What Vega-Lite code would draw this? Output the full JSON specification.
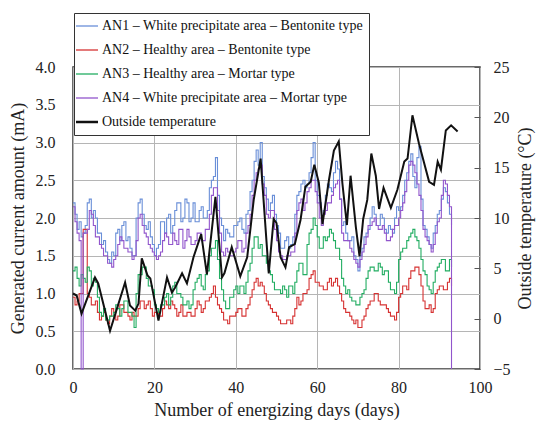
{
  "$schema": "https://vega.github.io/schema/vega-lite/v6.json",
  "width": 407,
  "height": 302,
  "autosize": {"type": "none"},
  "padding": {"left": 73, "top": 67, "right": 56, "bottom": 57},
  "background": "white",
  "config": {
    "font": "Liberation Serif",
    "view": {"stroke": "#3a3a3a", "strokeWidth": 1.5},
    "legend": {"labelFont": "Liberation Serif"},
    "axis": {
      "labelFont": "Liberation Serif",
      "titleFont": "Liberation Serif",
      "labelFontSize": 16,
      "titleFontSize": 18,
      "labelColor": "#222",
      "titleColor": "#222",
      "titleFontWeight": "normal",
      "gridColor": "#b5b5b5",
      "gridWidth": 1,
      "domain": false,
      "ticks": false,
      "labelFlush": false,
      "labelOverlap": false
    }
  },
  "datasets": {
    "an": [
      {"d": 0, "AN1": 2.2, "AN2": 0.95, "AN3": 1.3, "AN4": 2.15},
      {"d": 0.5, "AN1": 2.05, "AN2": 0.85, "AN3": 1.35, "AN4": 1.95},
      {"d": 1, "AN1": 1.85, "AN2": 0.9, "AN3": 1.2, "AN4": 1.8},
      {"d": 1.5, "AN1": 1.95, "AN2": 1.0, "AN3": 1.1, "AN4": 1.7},
      {"d": 2, "AN1": 1.75, "AN2": 1.0, "AN3": 1.25, "AN4": 0},
      {"d": 2.5, "AN1": 1.8, "AN2": 1.85, "AN3": 1.2, "AN4": 1.8},
      {"d": 3, "AN1": 1.9, "AN2": 1.85, "AN3": 1.15, "AN4": 1.8},
      {"d": 3.5, "AN1": 2.2, "AN2": 1.0, "AN3": 1.35, "AN4": 1.85},
      {"d": 4, "AN1": 2.25, "AN2": 0.95, "AN3": 1.3, "AN4": 2.1},
      {"d": 4.5, "AN1": 2.0, "AN2": 0.85, "AN3": 1.1, "AN4": 2.05},
      {"d": 5, "AN1": 2.1, "AN2": 0.85, "AN3": 1.2, "AN4": 1.9},
      {"d": 5.5, "AN1": 2.0, "AN2": 0.9, "AN3": 1.15, "AN4": 1.75},
      {"d": 6, "AN1": 1.8, "AN2": 0.75, "AN3": 0.95, "AN4": 1.75},
      {"d": 6.5, "AN1": 1.8, "AN2": 0.65, "AN3": 0.75, "AN4": 1.65},
      {"d": 7, "AN1": 1.65, "AN2": 0.7, "AN3": 0.7, "AN4": 1.6},
      {"d": 7.5, "AN1": 1.7, "AN2": 0.75, "AN3": 0.8, "AN4": 1.5},
      {"d": 8, "AN1": 1.55, "AN2": 0.65, "AN3": 0.65, "AN4": 1.5},
      {"d": 8.5, "AN1": 1.45, "AN2": 0.6, "AN3": 0.65, "AN4": 1.4},
      {"d": 9, "AN1": 1.4, "AN2": 0.7, "AN3": 0.7, "AN4": 1.4},
      {"d": 9.5, "AN1": 1.55, "AN2": 0.8, "AN3": 0.7, "AN4": 1.35},
      {"d": 10, "AN1": 1.5, "AN2": 0.75, "AN3": 0.75, "AN4": 1.45},
      {"d": 10.5, "AN1": 1.8, "AN2": 0.65, "AN3": 0.85, "AN4": 1.5},
      {"d": 11, "AN1": 1.85, "AN2": 0.7, "AN3": 0.8, "AN4": 1.65},
      {"d": 11.5, "AN1": 1.7, "AN2": 0.85, "AN3": 0.7, "AN4": 1.75},
      {"d": 12, "AN1": 1.9, "AN2": 0.85, "AN3": 0.8, "AN4": 1.7},
      {"d": 12.5, "AN1": 1.95, "AN2": 0.75, "AN3": 0.9, "AN4": 1.6},
      {"d": 13, "AN1": 1.7, "AN2": 0.75, "AN3": 0.9, "AN4": 1.6},
      {"d": 13.5, "AN1": 1.75, "AN2": 0.7, "AN3": 0.75, "AN4": 1.55},
      {"d": 14, "AN1": 1.6, "AN2": 0.65, "AN3": 0.75, "AN4": 1.55},
      {"d": 14.5, "AN1": 1.5, "AN2": 0.75, "AN3": 0.7, "AN4": 1.45},
      {"d": 15, "AN1": 1.5, "AN2": 0.7, "AN3": 0.55, "AN4": 1.5},
      {"d": 15.5, "AN1": 2.0, "AN2": 0.7, "AN3": 1.0, "AN4": 1.7},
      {"d": 16, "AN1": 2.2, "AN2": 0.8, "AN3": 1.25, "AN4": 2.0},
      {"d": 16.5, "AN1": 2.25, "AN2": 0.9, "AN3": 1.25, "AN4": 2.05},
      {"d": 17, "AN1": 2.05, "AN2": 0.9, "AN3": 1.35, "AN4": 1.9},
      {"d": 17.5, "AN1": 1.9, "AN2": 0.8, "AN3": 1.35, "AN4": 1.8},
      {"d": 18, "AN1": 1.85, "AN2": 0.85, "AN3": 1.2, "AN4": 1.75},
      {"d": 18.5, "AN1": 1.95, "AN2": 0.9, "AN3": 1.1, "AN4": 1.65},
      {"d": 19, "AN1": 1.75, "AN2": 0.8, "AN3": 1.1, "AN4": 1.6},
      {"d": 19.5, "AN1": 1.65, "AN2": 0.7, "AN3": 1.05, "AN4": 1.55},
      {"d": 20, "AN1": 1.5, "AN2": 0.75, "AN3": 0.85, "AN4": 1.5},
      {"d": 20.5, "AN1": 1.6, "AN2": 0.75, "AN3": 0.8, "AN4": 1.45},
      {"d": 21, "AN1": 1.65, "AN2": 0.7, "AN3": 0.75, "AN4": 1.5},
      {"d": 21.5, "AN1": 1.95, "AN2": 0.7, "AN3": 0.85, "AN4": 1.55},
      {"d": 22, "AN1": 1.95, "AN2": 0.8, "AN3": 0.85, "AN4": 1.7},
      {"d": 22.5, "AN1": 1.8, "AN2": 0.9, "AN3": 0.95, "AN4": 1.8},
      {"d": 23, "AN1": 2.0, "AN2": 0.85, "AN3": 1.0, "AN4": 1.75},
      {"d": 23.5, "AN1": 2.05, "AN2": 0.8, "AN3": 0.85, "AN4": 1.65},
      {"d": 24, "AN1": 1.8, "AN2": 0.9, "AN3": 0.95, "AN4": 1.65},
      {"d": 24.5, "AN1": 1.9, "AN2": 0.85, "AN3": 1.1, "AN4": 1.8},
      {"d": 25, "AN1": 2.1, "AN2": 0.8, "AN3": 1.15, "AN4": 1.7},
      {"d": 25.5, "AN1": 2.2, "AN2": 0.7, "AN3": 1.0, "AN4": 1.65},
      {"d": 26, "AN1": 2.2, "AN2": 0.75, "AN3": 1.0, "AN4": 1.85},
      {"d": 26.5, "AN1": 1.95, "AN2": 0.85, "AN3": 0.95, "AN4": 1.85},
      {"d": 27, "AN1": 2.0, "AN2": 0.7, "AN3": 0.85, "AN4": 1.6},
      {"d": 27.5, "AN1": 2.25, "AN2": 0.7, "AN3": 0.85, "AN4": 1.7},
      {"d": 28, "AN1": 2.2, "AN2": 0.75, "AN3": 0.9, "AN4": 1.85},
      {"d": 28.5, "AN1": 1.95, "AN2": 0.75, "AN3": 0.8, "AN4": 1.75},
      {"d": 29, "AN1": 2.0, "AN2": 0.7, "AN3": 0.85, "AN4": 1.65},
      {"d": 29.5, "AN1": 2.2, "AN2": 0.7, "AN3": 1.05, "AN4": 1.65},
      {"d": 30, "AN1": 1.95, "AN2": 0.8, "AN3": 1.15, "AN4": 1.7},
      {"d": 30.5, "AN1": 1.95, "AN2": 0.9, "AN3": 1.2, "AN4": 1.8},
      {"d": 31, "AN1": 2.1, "AN2": 0.85, "AN3": 1.25, "AN4": 1.8},
      {"d": 31.5, "AN1": 2.15, "AN2": 0.75, "AN3": 1.1, "AN4": 1.7},
      {"d": 32, "AN1": 2.0, "AN2": 0.8, "AN3": 1.05, "AN4": 1.7},
      {"d": 32.5, "AN1": 2.0, "AN2": 0.9, "AN3": 1.25, "AN4": 1.85},
      {"d": 33, "AN1": 2.1, "AN2": 0.9, "AN3": 1.3, "AN4": 1.85},
      {"d": 33.5, "AN1": 2.4, "AN2": 0.95, "AN3": 1.5, "AN4": 2.05},
      {"d": 34, "AN1": 2.5, "AN2": 1.0, "AN3": 1.6, "AN4": 2.3},
      {"d": 34.5, "AN1": 2.55, "AN2": 1.1, "AN3": 1.6, "AN4": 2.4},
      {"d": 35, "AN1": 2.8, "AN2": 0.95, "AN3": 1.7, "AN4": 2.4},
      {"d": 35.5, "AN1": 2.3, "AN2": 0.85, "AN3": 1.45, "AN4": 2.1},
      {"d": 36, "AN1": 2.0, "AN2": 0.8, "AN3": 1.2, "AN4": 1.8},
      {"d": 36.5, "AN1": 1.9, "AN2": 0.75, "AN3": 1.05, "AN4": 1.55},
      {"d": 37, "AN1": 1.7, "AN2": 0.65, "AN3": 0.9, "AN4": 1.5},
      {"d": 37.5, "AN1": 1.85, "AN2": 0.65, "AN3": 0.8, "AN4": 1.6},
      {"d": 38, "AN1": 1.8, "AN2": 0.6, "AN3": 0.8, "AN4": 1.55},
      {"d": 38.5, "AN1": 1.75, "AN2": 0.7, "AN3": 0.95, "AN4": 1.5},
      {"d": 39, "AN1": 1.75, "AN2": 0.7, "AN3": 0.95, "AN4": 1.5},
      {"d": 39.5, "AN1": 1.9, "AN2": 0.7, "AN3": 1.05, "AN4": 1.55},
      {"d": 40, "AN1": 1.9, "AN2": 0.75, "AN3": 1.1, "AN4": 1.6},
      {"d": 40.5, "AN1": 1.95, "AN2": 0.8, "AN3": 1.0, "AN4": 1.7},
      {"d": 41, "AN1": 2.0, "AN2": 0.8, "AN3": 1.1, "AN4": 1.7},
      {"d": 41.5, "AN1": 1.85, "AN2": 0.7, "AN3": 1.1, "AN4": 1.55},
      {"d": 42, "AN1": 1.8, "AN2": 0.7, "AN3": 1.0, "AN4": 1.6},
      {"d": 42.5, "AN1": 2.05, "AN2": 0.8, "AN3": 1.15, "AN4": 1.8},
      {"d": 43, "AN1": 2.1, "AN2": 0.85, "AN3": 1.3, "AN4": 1.9},
      {"d": 43.5, "AN1": 2.35, "AN2": 0.95, "AN3": 1.4, "AN4": 2.05},
      {"d": 44, "AN1": 2.5, "AN2": 1.05, "AN3": 1.6, "AN4": 2.3},
      {"d": 44.5, "AN1": 2.75, "AN2": 1.15, "AN3": 1.75, "AN4": 2.5},
      {"d": 45, "AN1": 2.9, "AN2": 1.2, "AN3": 1.75, "AN4": 2.6},
      {"d": 45.5, "AN1": 2.7, "AN2": 1.1, "AN3": 1.6, "AN4": 2.65},
      {"d": 46, "AN1": 3.0, "AN2": 1.15, "AN3": 1.65, "AN4": 2.7},
      {"d": 46.5, "AN1": 2.55, "AN2": 1.1, "AN3": 1.5, "AN4": 2.45},
      {"d": 47, "AN1": 2.4, "AN2": 1.0, "AN3": 1.5, "AN4": 2.3},
      {"d": 47.5, "AN1": 2.25, "AN2": 0.9, "AN3": 1.4, "AN4": 2.05},
      {"d": 48, "AN1": 2.1, "AN2": 0.85, "AN3": 1.3, "AN4": 2.0},
      {"d": 48.5, "AN1": 2.2, "AN2": 0.8, "AN3": 1.25, "AN4": 2.1},
      {"d": 49, "AN1": 2.3, "AN2": 0.75, "AN3": 1.15, "AN4": 2.1},
      {"d": 49.5, "AN1": 2.05, "AN2": 0.75, "AN3": 1.05, "AN4": 1.85},
      {"d": 50, "AN1": 1.9, "AN2": 0.7, "AN3": 1.05, "AN4": 1.7},
      {"d": 50.5, "AN1": 1.8, "AN2": 0.65, "AN3": 1.05, "AN4": 1.55},
      {"d": 51, "AN1": 1.6, "AN2": 0.6, "AN3": 1.0, "AN4": 1.5},
      {"d": 51.5, "AN1": 1.6, "AN2": 0.6, "AN3": 1.1, "AN4": 1.45},
      {"d": 52, "AN1": 1.7, "AN2": 0.6, "AN3": 1.05, "AN4": 1.45},
      {"d": 52.5, "AN1": 1.75, "AN2": 0.65, "AN3": 0.95, "AN4": 1.5},
      {"d": 53, "AN1": 1.6, "AN2": 0.65, "AN3": 1.1, "AN4": 1.5},
      {"d": 53.5, "AN1": 1.65, "AN2": 0.6, "AN3": 1.1, "AN4": 1.55},
      {"d": 54, "AN1": 1.75, "AN2": 0.7, "AN3": 1.0, "AN4": 1.55},
      {"d": 54.5, "AN1": 2.05, "AN2": 0.8, "AN3": 1.15, "AN4": 1.8},
      {"d": 55, "AN1": 2.3, "AN2": 0.95, "AN3": 1.3, "AN4": 2.1},
      {"d": 55.5, "AN1": 2.35, "AN2": 0.85, "AN3": 1.4, "AN4": 2.2},
      {"d": 56, "AN1": 2.45, "AN2": 0.9, "AN3": 1.4, "AN4": 2.25},
      {"d": 56.5, "AN1": 2.5, "AN2": 1.0, "AN3": 1.25, "AN4": 2.1},
      {"d": 57, "AN1": 2.4, "AN2": 1.0, "AN3": 1.25, "AN4": 2.2},
      {"d": 57.5, "AN1": 2.45, "AN2": 1.05, "AN3": 1.65, "AN4": 2.35},
      {"d": 58, "AN1": 2.6, "AN2": 1.2, "AN3": 1.8, "AN4": 2.4},
      {"d": 58.5, "AN1": 2.8, "AN2": 1.25, "AN3": 1.85, "AN4": 2.5},
      {"d": 59, "AN1": 3.0, "AN2": 1.3, "AN3": 2.0, "AN4": 2.5},
      {"d": 59.5, "AN1": 2.5, "AN2": 1.15, "AN3": 1.9, "AN4": 2.35},
      {"d": 60, "AN1": 2.3, "AN2": 1.15, "AN3": 1.75, "AN4": 2.2},
      {"d": 60.5, "AN1": 2.2, "AN2": 1.1, "AN3": 1.6, "AN4": 2.0},
      {"d": 61, "AN1": 2.0, "AN2": 1.1, "AN3": 1.6, "AN4": 1.9},
      {"d": 61.5, "AN1": 2.1, "AN2": 1.05, "AN3": 1.75, "AN4": 2.05},
      {"d": 62, "AN1": 2.3, "AN2": 1.05, "AN3": 1.7, "AN4": 2.1},
      {"d": 62.5, "AN1": 2.45, "AN2": 1.15, "AN3": 1.75, "AN4": 2.2},
      {"d": 63, "AN1": 2.4, "AN2": 1.2, "AN3": 1.85, "AN4": 2.2},
      {"d": 63.5, "AN1": 2.35, "AN2": 1.1, "AN3": 1.8, "AN4": 2.3},
      {"d": 64, "AN1": 2.6, "AN2": 1.15, "AN3": 1.7, "AN4": 2.4},
      {"d": 64.5, "AN1": 2.75, "AN2": 1.2, "AN3": 1.6, "AN4": 2.45},
      {"d": 65, "AN1": 2.65, "AN2": 1.1, "AN3": 1.6, "AN4": 2.5},
      {"d": 65.5, "AN1": 2.25, "AN2": 1.0, "AN3": 1.45, "AN4": 2.25},
      {"d": 66, "AN1": 1.9, "AN2": 0.9, "AN3": 1.2, "AN4": 1.8},
      {"d": 66.5, "AN1": 1.95, "AN2": 0.8, "AN3": 1.1, "AN4": 1.7},
      {"d": 67, "AN1": 1.8, "AN2": 0.75, "AN3": 1.0, "AN4": 1.7},
      {"d": 67.5, "AN1": 1.7, "AN2": 0.75, "AN3": 1.05, "AN4": 1.7},
      {"d": 68, "AN1": 1.7, "AN2": 0.7, "AN3": 0.95, "AN4": 1.6},
      {"d": 68.5, "AN1": 1.75, "AN2": 0.65, "AN3": 0.9, "AN4": 1.55},
      {"d": 69, "AN1": 1.5, "AN2": 0.6, "AN3": 0.9, "AN4": 1.45},
      {"d": 69.5, "AN1": 1.45, "AN2": 0.65, "AN3": 0.85, "AN4": 1.4},
      {"d": 70, "AN1": 1.3, "AN2": 0.55, "AN3": 0.85, "AN4": 1.35},
      {"d": 70.5, "AN1": 1.5, "AN2": 0.55, "AN3": 0.95, "AN4": 1.45},
      {"d": 71, "AN1": 1.6, "AN2": 0.65, "AN3": 1.0, "AN4": 1.55},
      {"d": 71.5, "AN1": 1.75, "AN2": 0.7, "AN3": 1.05, "AN4": 1.65},
      {"d": 72, "AN1": 1.8, "AN2": 0.8, "AN3": 1.2, "AN4": 1.75},
      {"d": 72.5, "AN1": 1.85, "AN2": 0.85, "AN3": 1.3, "AN4": 1.9},
      {"d": 73, "AN1": 2.0, "AN2": 0.9, "AN3": 1.35, "AN4": 1.9},
      {"d": 73.5, "AN1": 2.15, "AN2": 0.9, "AN3": 1.35, "AN4": 1.95},
      {"d": 74, "AN1": 2.05, "AN2": 1.0, "AN3": 1.3, "AN4": 2.0},
      {"d": 74.5, "AN1": 1.9, "AN2": 1.0, "AN3": 1.3, "AN4": 1.9},
      {"d": 75, "AN1": 1.9, "AN2": 0.9, "AN3": 1.4, "AN4": 1.85},
      {"d": 75.5, "AN1": 2.05, "AN2": 0.85, "AN3": 1.35, "AN4": 1.85},
      {"d": 76, "AN1": 2.0, "AN2": 0.85, "AN3": 1.25, "AN4": 1.9},
      {"d": 76.5, "AN1": 1.85, "AN2": 0.85, "AN3": 1.3, "AN4": 1.8},
      {"d": 77, "AN1": 1.8, "AN2": 0.8, "AN3": 1.3, "AN4": 1.7},
      {"d": 77.5, "AN1": 1.9, "AN2": 0.75, "AN3": 1.15, "AN4": 1.7},
      {"d": 78, "AN1": 1.85, "AN2": 0.7, "AN3": 1.05, "AN4": 1.75},
      {"d": 78.5, "AN1": 1.8, "AN2": 0.7, "AN3": 1.05, "AN4": 1.85},
      {"d": 79, "AN1": 2.0, "AN2": 0.65, "AN3": 1.0, "AN4": 1.9},
      {"d": 79.5, "AN1": 2.15, "AN2": 0.75, "AN3": 1.15, "AN4": 1.9},
      {"d": 80, "AN1": 2.1, "AN2": 0.95, "AN3": 1.45, "AN4": 2.0},
      {"d": 80.5, "AN1": 2.15, "AN2": 1.0, "AN3": 1.55, "AN4": 2.1},
      {"d": 81, "AN1": 2.3, "AN2": 1.1, "AN3": 1.6, "AN4": 2.2},
      {"d": 81.5, "AN1": 2.5, "AN2": 1.1, "AN3": 1.6, "AN4": 2.35},
      {"d": 82, "AN1": 2.6, "AN2": 1.05, "AN3": 1.7, "AN4": 2.5},
      {"d": 82.5, "AN1": 2.75, "AN2": 1.2, "AN3": 1.75, "AN4": 2.7},
      {"d": 83, "AN1": 2.85, "AN2": 1.3, "AN3": 1.8, "AN4": 2.75},
      {"d": 83.5, "AN1": 2.55, "AN2": 1.3, "AN3": 1.85, "AN4": 2.7},
      {"d": 84, "AN1": 2.4, "AN2": 1.35, "AN3": 1.75, "AN4": 2.6},
      {"d": 84.5, "AN1": 2.8, "AN2": 1.35, "AN3": 1.7, "AN4": 2.45},
      {"d": 85, "AN1": 2.95, "AN2": 1.25, "AN3": 1.6, "AN4": 2.3},
      {"d": 85.5, "AN1": 2.25, "AN2": 1.1, "AN3": 1.45, "AN4": 2.1},
      {"d": 86, "AN1": 1.9, "AN2": 0.9, "AN3": 1.3, "AN4": 1.85},
      {"d": 86.5, "AN1": 1.85, "AN2": 0.8, "AN3": 1.25, "AN4": 1.75},
      {"d": 87, "AN1": 1.75, "AN2": 0.8, "AN3": 1.1, "AN4": 1.7},
      {"d": 87.5, "AN1": 1.65, "AN2": 0.85, "AN3": 1.05, "AN4": 1.65},
      {"d": 88, "AN1": 1.6, "AN2": 0.75, "AN3": 1.0, "AN4": 1.55},
      {"d": 88.5, "AN1": 1.8, "AN2": 0.8, "AN3": 1.15, "AN4": 1.65},
      {"d": 89, "AN1": 1.9, "AN2": 1.0, "AN3": 1.3, "AN4": 1.8},
      {"d": 89.5, "AN1": 2.05, "AN2": 1.05, "AN3": 1.35, "AN4": 1.95},
      {"d": 90, "AN1": 2.1, "AN2": 1.1, "AN3": 1.4, "AN4": 2.0},
      {"d": 90.5, "AN1": 2.25, "AN2": 1.1, "AN3": 1.45, "AN4": 2.3},
      {"d": 91, "AN1": 2.4, "AN2": 1.05, "AN3": 1.45, "AN4": 2.5},
      {"d": 91.5, "AN1": 2.35, "AN2": 1.05, "AN3": 1.3, "AN4": 2.45},
      {"d": 92, "AN1": 2.2, "AN2": 1.15, "AN3": 1.3, "AN4": 2.3},
      {"d": 92.5, "AN1": 2.05, "AN2": 1.2, "AN3": 1.45, "AN4": 2.15},
      {"d": 93, "AN1": 1.9, "AN2": 1.1, "AN3": 1.35, "AN4": 0}
    ],
    "temp": [
      {"d": 0, "t": 2.5}, {"d": 0.9, "t": 2.3}, {"d": 2.1, "t": 0.5}, {"d": 5.4, "t": 4.1},
      {"d": 6.2, "t": 3.5}, {"d": 9.1, "t": -1.2}, {"d": 12.8, "t": 3.6}, {"d": 14, "t": 1.3},
      {"d": 15.3, "t": 0.8}, {"d": 16.1, "t": 1.5}, {"d": 16.9, "t": 6.0}, {"d": 18.3, "t": 4.3},
      {"d": 19, "t": 4.0}, {"d": 21, "t": -0.2}, {"d": 23.1, "t": 4.1}, {"d": 24.3, "t": 2.6},
      {"d": 25.1, "t": 3.1}, {"d": 26.8, "t": 4.5}, {"d": 28, "t": 3.5}, {"d": 29.6, "t": 6.1},
      {"d": 31.5, "t": 8.4}, {"d": 32.9, "t": 4.4}, {"d": 35, "t": 12.1}, {"d": 36.6, "t": 4.1},
      {"d": 37.2, "t": 4.5}, {"d": 39, "t": 7.1}, {"d": 41.1, "t": 4.2}, {"d": 42.8, "t": 6.1},
      {"d": 44.4, "t": 11.8}, {"d": 46.1, "t": 15.9}, {"d": 48.1, "t": 4.5}, {"d": 49.3, "t": 9.9},
      {"d": 50, "t": 9.5}, {"d": 51, "t": 6.1}, {"d": 52.2, "t": 5.1}, {"d": 53.1, "t": 7.1},
      {"d": 54.5, "t": 7.4}, {"d": 55.9, "t": 9.8}, {"d": 57.1, "t": 13.1}, {"d": 58.4, "t": 13.6},
      {"d": 59.3, "t": 15.3}, {"d": 60.4, "t": 13.5}, {"d": 61.3, "t": 9.4}, {"d": 62.9, "t": 13.8},
      {"d": 64.1, "t": 16.7}, {"d": 65.3, "t": 17.6}, {"d": 66.2, "t": 13.4}, {"d": 67.3, "t": 9.3},
      {"d": 68.2, "t": 14.2}, {"d": 69.5, "t": 9.1}, {"d": 70.4, "t": 6.2}, {"d": 71.3, "t": 9.9},
      {"d": 72.3, "t": 11.8}, {"d": 73.3, "t": 16.4}, {"d": 74.4, "t": 14.2}, {"d": 75.2, "t": 10.9},
      {"d": 76.3, "t": 13.0}, {"d": 78.1, "t": 11.0}, {"d": 79.7, "t": 12.8}, {"d": 81.4, "t": 15.6},
      {"d": 82.2, "t": 15.9}, {"d": 83.4, "t": 20.2}, {"d": 85, "t": 17.4}, {"d": 87.5, "t": 13.6},
      {"d": 88.7, "t": 13.3}, {"d": 89.6, "t": 15.6}, {"d": 90.4, "t": 14.8}, {"d": 91.6, "t": 18.7},
      {"d": 92.9, "t": 19.2}, {"d": 94.5, "t": 18.6}
    ]
  },
  "layer": [
    {
      "data": {"name": "an"},
      "transform": [{"fold": ["AN1", "AN2", "AN3", "AN4"], "as": ["series", "value"]}],
      "mark": {"type": "line", "interpolate": "step-after", "strokeWidth": 1.1},
      "encoding": {
        "x": {
          "field": "d", "type": "quantitative",
          "scale": {"domain": [0, 100]},
          "axis": {"values": [0, 20, 40, 60, 80, 100], "title": "Number of energizing days (days)", "grid": true, "labelPadding": 10, "titlePadding": 6}
        },
        "y": {
          "field": "value", "type": "quantitative",
          "scale": {"domain": [0, 4]},
          "axis": {"values": [0, 0.5, 1, 1.5, 2, 2.5, 3, 3.5, 4], "format": ".1f", "title": "Generated current amount (mA)", "grid": true, "labelPadding": 18, "titlePadding": 8}
        },
        "color": {
          "field": "series", "type": "nominal",
          "scale": {
            "domain": ["AN1", "AN2", "AN3", "AN4", "Outside temperature"],
            "range": ["#6a8fd8", "#d63232", "#22ad62", "#9155cc", "#111111"]
          },
          "legend": {
            "orient": "none", "legendX": 1, "legendY": -54,
            "title": null,
            "symbolType": "stroke", "symbolSize": 484, "symbolStrokeWidth": 1.3,
            "labelFont": "Liberation Serif", "labelFontSize": 14, "labelColor": "#111", "labelLimit": 400,
            "labelOffset": 8, "padding": 6, "rowPadding": 10,
            "strokeColor": "#333", "fillColor": "white",
            "labelExpr": "datum.label == 'AN1' ? 'AN1 – White precipitate area – Bentonite type' : datum.label == 'AN2' ? 'AN2 – Healthy area – Bentonite type' : datum.label == 'AN3' ? 'AN3 – Healthy area – Mortar type' : datum.label == 'AN4' ? 'AN4 – White precipitate area – Mortar type' : datum.label",
            "encode": {"symbols": {"update": {"strokeWidth": {"signal": "datum.value === 'Outside temperature' ? 2.5 : 1.3"}}}}
          }
        }
      }
    },
    {
      "data": {"name": "temp"},
      "mark": {"type": "line", "strokeWidth": 2},
      "encoding": {
        "x": {"field": "d", "type": "quantitative"},
        "y": {
          "field": "t", "type": "quantitative",
          "scale": {"domain": [-5, 25]},
          "axis": {"orient": "right", "values": [-5, 0, 5, 10, 15, 20, 25], "title": "Outside temperature (°C)", "grid": false, "ticks": true, "tickSize": -6, "tickColor": "#555", "labelPadding": 19, "titleAngle": 270, "titlePadding": 24}
        },
        "color": {"datum": "Outside temperature"}
      }
    }
  ],
  "resolve": {"scale": {"y": "independent"}}
}
